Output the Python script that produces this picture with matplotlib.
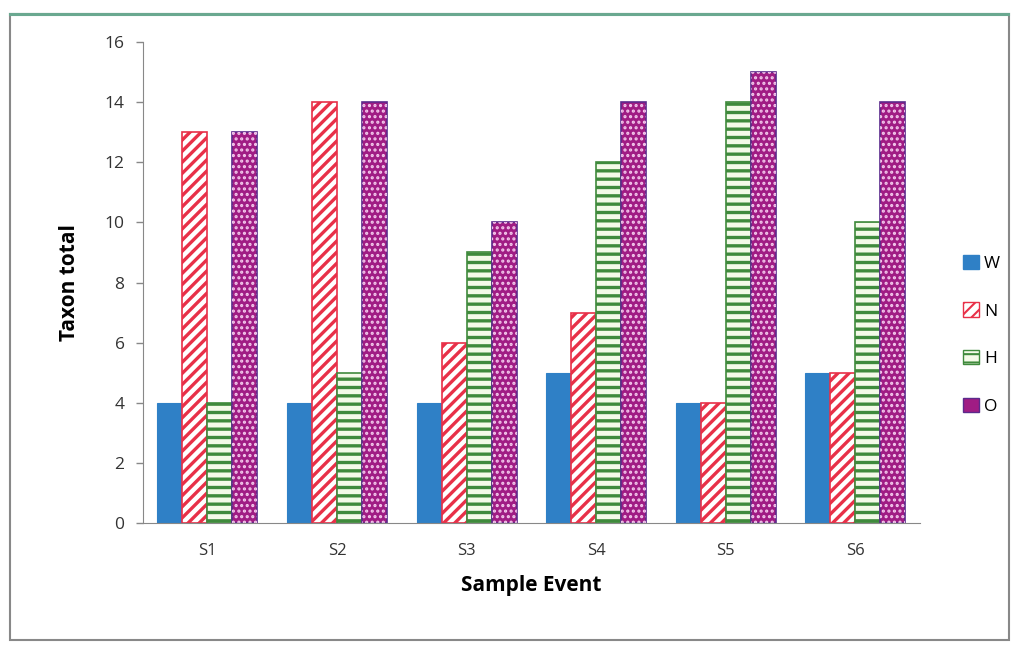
import numpy as np
import matplotlib
matplotlib.use("Agg")
import matplotlib.pyplot as plt
from matplotlib.patches import Rectangle, Patch

# --- data
events = ["S1", "S2", "S3", "S4", "S5", "S6"]
series = ["W", "N", "H", "O"]
w_vals = [4, 4, 4, 5, 4, 5]
n_vals = [13, 14, 6, 7, 4, 5]
h_vals = [4, 5, 9, 12, 14, 10]
o_vals = [13, 14, 10, 14, 15, 14]

plt.rcParams['font.family'] = ['Open Sans', 'DejaVu Sans']
plt.rcParams['hatch.linewidth'] = 2.4

fig = plt.figure(figsize=(10.19, 6.45), dpi=100)
ax = fig.add_axes([0.140, 0.189, 0.763, 0.746])

x = np.arange(len(events))
bw = 0.193
offs = np.array([-1.5, -0.5, 0.5, 1.5]) * bw

# W - solid blue
ax.bar(x + offs[0], w_vals, bw, color="#2f80c6", edgecolor="#2f80c6", lw=0.8)
# N - red diagonal stripes on white
ax.bar(x + offs[1], n_vals, bw, facecolor="white", edgecolor="#e83048",
       hatch="///", lw=1.2)
# H - green horizontal stripes on pale face
ax.bar(x + offs[2], h_vals, bw, facecolor="#f4fae8", edgecolor="#3f8a3c",
       hatch="--", lw=1.2)
# O - magenta with white dots
ax.bar(x + offs[3], o_vals, bw, facecolor="#a01c84", edgecolor="#5b2a8c", lw=1.2)
plt.rcParams['hatch.linewidth'] = 1.5
ax.bar(x + offs[3], o_vals, bw, facecolor="none", edgecolor="#f3c8ec",
       hatch="...", lw=0)

ax.set_xlim(-0.5, len(events) - 0.5)
ax.set_ylim(0, 16)
ax.set_yticks(range(0, 17, 2))
ax.set_xticks(x)
ax.set_xticklabels(events)
ax.tick_params(axis="x", length=0, pad=14, labelsize=12, colors="#333333")
ax.tick_params(axis="y", length=5, width=1, color="#888888", labelsize=12.5,
               colors="#333333", pad=8)
for s in ["top", "right"]:
    ax.spines[s].set_visible(False)
ax.spines["left"].set_color("#888888")
ax.spines["bottom"].set_color("#888888")

ax.set_ylabel("Taxon total", fontsize=15, fontweight="bold", labelpad=18)
ax.set_xlabel("Sample Event", fontsize=15, fontweight="bold", labelpad=12)

handles = [
    Patch(facecolor="#2f80c6", edgecolor="#2f80c6"),
    Patch(facecolor="white", edgecolor="#e83048", hatch="///"),
    Patch(facecolor="#f4fae8", edgecolor="#3f8a3c", hatch="--"),
    Patch(facecolor="#a01c84", edgecolor="#5b2a8c"),
]
fig.legend(handles, series, loc="center left", bbox_to_anchor=(0.930, 0.481),
           frameon=False, fontsize=12.5, labelspacing=1.75, handlelength=0.9,
           handleheight=0.9, handletextpad=0.3)

# frame around the whole chart
fig.patches.append(Rectangle((0.010, 0.008), 0.980, 0.970, transform=fig.transFigure,
                             fill=False, edgecolor="#888888", lw=1.5))
fig.patches.append(Rectangle((0.010, 0.977), 0.980, 0.002, transform=fig.transFigure,
                             fill=False, edgecolor="#6aa890", lw=1.5))

fig.savefig("out.png", dpi=100)
